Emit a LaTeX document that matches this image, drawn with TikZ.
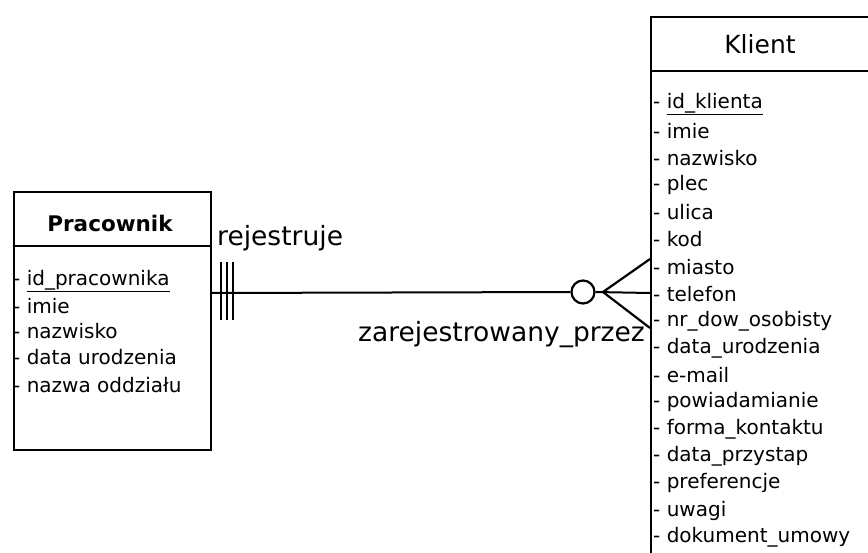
\documentclass[tikz,border=0pt]{standalone}
\usepackage{fontspec}
\setmainfont{DejaVu Sans}
\begin{document}
\begin{tikzpicture}[x=1pt,y=-1pt,
  box/.style={draw,line width=2.2pt,anchor=north west,inner sep=0pt},
  sep/.style={line width=2.2pt},
  row/.style={anchor=west,inner sep=0pt,font=\fontsize{20}{22}\selectfont},
  title/.style={anchor=center,inner sep=0pt,font=\fontsize{25}{28}\selectfont},
  lbl/.style={inner sep=0pt,font=\fontsize{26.5}{29}\selectfont},
  rel/.style={line width=2pt}]
\useasboundingbox (0,0) rectangle (868,552);
% Pracownik
\node[box,minimum width=197pt,minimum height=258pt] (prac) at (13,191) {};
\draw[sep] (13,246) -- (210,246);
\node[title,font=\fontsize{21.5}{24}\selectfont\bfseries] (pt) at (110,223) {Pracownik};
\node[row] (p1) at (13,281) {- \underline{id\_pracownika}};
\node[row] (p2) at (13,306) {- imie};
\node[row] (p3) at (13,331) {- nazwisko};
\node[row] (p4) at (13,357) {- data urodzenia};
\node[row] (p5) at (13,385) {- nazwa oddziału};
% Klient
\node[box,minimum width=240pt,minimum height=560pt] (kl) at (650,16) {};
\draw[sep] (650,71) -- (880,71);
\node[title] (kt) at (760,44) {Klient};
\foreach \t [count=\i] in {{\underline{id\_klienta}},imie,nazwisko,plec,ulica,kod,miasto,telefon,nr\_dow\_osobisty,data\_urodzenia,e-mail,powiadamianie,forma\_kontaktu,data\_przystap,preferencje,uwagi,dokument\_umowy}
  \node[row] (k\i) at (653,{104+27.1*(\i-1)}) {- \t};
% relationship
\coordinate (ra) at (210,293);
\coordinate (rb) at (650,293);
\node[lbl,anchor=west] (l1) at (217,238) {rejestruje};
\node[lbl,anchor=east] (l2) at (645,335) {zarejestrowany\_przez};
\node[draw,circle,line width=2.2pt,minimum size=23pt,inner sep=0pt] (c) at (583,292) {};
\coordinate (cf) at (603,292);
\coordinate (cu) at (650,259);
\coordinate (cd) at (650,328);
\draw[rel] (ra) -- (c.west);
\draw[rel] (c.east) -- (rb);
\draw[rel,line width=2.2pt] (cu) -- (cf) -- (cd);
\foreach \x in {221,227,233} \draw[line width=2pt] (\x,262) -- (\x,320);
\end{tikzpicture}
\end{document}
